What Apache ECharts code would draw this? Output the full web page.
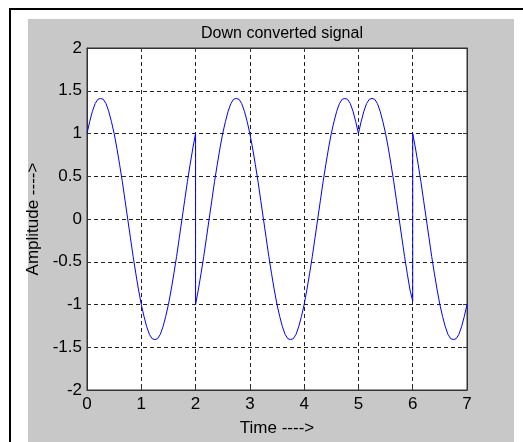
<!DOCTYPE html>
<html>
<head>
<meta charset="utf-8">
<script src="https://cdn.jsdelivr.net/npm/echarts@6/dist/echarts.min.js"></script>
<style>html,body{margin:0;padding:0;background:#fff}#c{width:523px;height:442px}</style>
</head>
<body>
<div id="c"></div>
<script>
var titleText = 'Down converted signal';
var xName = 'Time ---->';
var yName = 'Amplitude ---->';
var timeVals = [
  0,0.05,0.1,0.15,0.2,0.25,0.3,0.35,0.4,0.45,0.5,0.55,0.6,0.65,0.7,0.75,0.8,0.85,0.9,0.95,
  1,1.05,1.1,1.15,1.2,1.25,1.3,1.35,1.4,1.45,1.5,1.55,1.6,1.65,1.7,1.75,1.8,1.85,1.9,1.95,2,
  2,2.05,2.1,2.15,2.2,2.25,2.3,2.35,2.4,2.45,2.5,2.55,2.6,2.65,2.7,2.75,2.8,2.85,2.9,2.95,
  3,3.05,3.1,3.15,3.2,3.25,3.3,3.35,3.4,3.45,3.5,3.55,3.6,3.65,3.7,3.75,3.8,3.85,3.9,3.95,
  4,4.05,4.1,4.15,4.2,4.25,4.3,4.35,4.4,4.45,4.5,4.55,4.6,4.65,4.7,4.75,4.8,4.85,4.9,4.95,
  5,5.05,5.1,5.15,5.2,5.25,5.3,5.35,5.4,5.45,5.5,5.55,5.6,5.65,5.7,5.75,5.8,5.85,5.9,5.95,6,
  6,6.05,6.1,6.15,6.2,6.25,6.3,6.35,6.4,6.45,6.5,6.55,6.6,6.65,6.7,6.75,6.8,6.85,6.9,6.95,7];
var amplitude = [
  1,1.14,1.26,1.35,1.4,1.41,1.4,1.35,1.26,1.14,1,0.83,0.64,0.44,0.22,0,-0.22,-0.44,-0.64,-0.83,
  -1,-1.14,-1.26,-1.35,-1.4,-1.41,-1.4,-1.35,-1.26,-1.14,-1,-0.83,-0.64,-0.44,-0.22,0,0.22,0.44,0.64,0.83,1,
  -1,-0.83,-0.64,-0.44,-0.22,0,0.22,0.44,0.64,0.83,1,1.14,1.26,1.35,1.4,1.41,1.4,1.35,1.26,1.14,
  1,0.83,0.64,0.44,0.22,0,-0.22,-0.44,-0.64,-0.83,-1,-1.14,-1.26,-1.35,-1.4,-1.41,-1.4,-1.35,-1.26,-1.14,
  -1,-0.83,-0.64,-0.44,-0.22,0,0.22,0.44,0.64,0.83,1,1.14,1.26,1.35,1.4,1.41,1.4,1.35,1.26,1.14,
  1,1.14,1.26,1.35,1.4,1.41,1.4,1.35,1.26,1.14,1,0.83,0.64,0.44,0.22,0,-0.22,-0.44,-0.64,-0.83,-0.96,
  1,0.83,0.64,0.44,0.22,0,-0.22,-0.44,-0.64,-0.83,-1,-1.14,-1.26,-1.35,-1.4,-1.41,-1.4,-1.35,-1.26,-1.14,-1];

var pts = timeVals.map(function(t,i){return [t, amplitude[i]];});
var font = 'Liberation Sans';
var chart = echarts.init(document.getElementById('c'));
var gridLine = {show:true, lineStyle:{color:'#222', type:[4,3], width:1}};
var edge = {show:true, onZero:false, lineStyle:{color:'#333'}};
var tick = {show:true, inside:true, length:4, lineStyle:{color:'#333'}};
chart.setOption({
  backgroundColor:'#c8c8c8',
  animation:false,
  textStyle:{fontFamily:font},
  title:{text:titleText, left:277, top:21, textAlign:'center',
    textStyle:{fontFamily:font, fontSize:16, fontWeight:'normal', color:'#000'}},
  graphic:[
    {type:'rect', shape:{x:0,y:0,width:523,height:19}, style:{fill:'#fff'}},
    {type:'rect', shape:{x:0,y:0,width:28,height:442}, style:{fill:'#fff'}},
    {type:'rect', shape:{x:514,y:0,width:9,height:442}, style:{fill:'#fff'}},
    {type:'line', shape:{x1:9,y1:9,x2:523,y2:9}, style:{stroke:'#000', lineWidth:2}},
    {type:'line', shape:{x1:10,y1:9,x2:10,y2:442}, style:{stroke:'#000', lineWidth:2}}
  ],
  grid:{left:87, top:48, width:380, height:345, show:true, backgroundColor:'#fff', borderColor:'#333', borderWidth:1},
  xAxis:[{type:'value', min:0, max:7, interval:1, position:'bottom',
    name:xName, nameLocation:'middle', nameGap:30, nameTextStyle:{fontFamily:font, fontSize:17, color:'#000'},
    axisLine:edge, axisTick:tick,
    axisLabel:{fontFamily:font, fontSize:17, color:'#000', margin:6},
    splitLine:gridLine},
    {type:'value', min:0, max:7, interval:1, position:'top',
    axisLine:edge, axisTick:tick, axisLabel:{show:false}, splitLine:{show:false}}],
  yAxis:[{type:'value', min:-2, max:2, interval:0.5, position:'left',
    name:yName, nameLocation:'middle', nameGap:44, nameRotate:90, nameTextStyle:{fontFamily:font, fontSize:17, color:'#000'},
    axisLine:edge, axisTick:tick,
    axisLabel:{fontFamily:font, fontSize:17, color:'#000', margin:5},
    splitLine:gridLine},
    {type:'value', min:-2, max:2, interval:0.5, position:'right',
    axisLine:edge, axisTick:tick, axisLabel:{show:false}, splitLine:{show:false}}],
  series:[{type:'line', data:pts, showSymbol:false, symbol:'none', smooth:false,
    lineStyle:{color:'#0000ff', width:1}, xAxisIndex:0, yAxisIndex:0}]
});
</script>
</body>
</html>
